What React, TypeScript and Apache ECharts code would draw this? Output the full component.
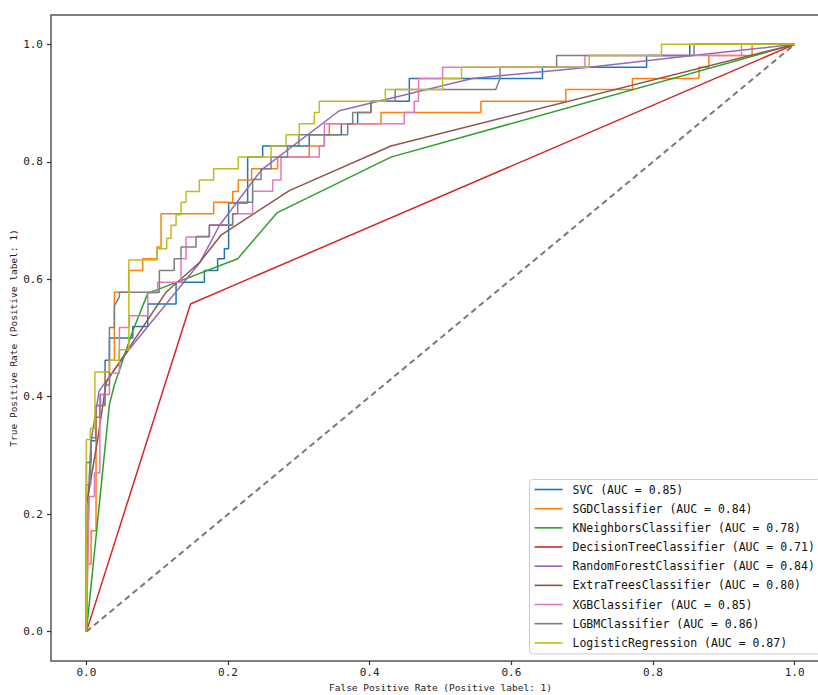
import React, { useEffect, useRef } from "react";
import * as echarts from "echarts";

const modelNames = [
  "SVC",
  "SGDClassifier",
  "KNeighborsClassifier",
  "DecisionTreeClassifier",
  "RandomForestClassifier",
  "ExtraTreesClassifier",
  "XGBClassifier",
  "LGBMClassifier",
  "LogisticRegression",
];
const aucValues = ["0.85", "0.84", "0.78", "0.71", "0.84", "0.80", "0.85", "0.86", "0.87"];
const lineColors = ["#1f77b4", "#ff7f0e", "#2ca02c", "#d62728", "#9467bd", "#8c564b", "#e377c2", "#7f7f7f", "#bcbd22"];

const xTicks = [0, 0.2, 0.4, 0.6, 0.8, 1.0];
const yTicks = [0, 0.2, 0.4, 0.6, 0.8, 1.0];

// [fpr, tpr] points
const svcRoc = [[0,0],[0,0.288],[0.0066,0.288],[0.0066,0.325],[0.0136,0.325],[0.0136,0.385],[0.0198,0.385],[0.0198,0.404],[0.0264,0.404],[0.0264,0.462],[0.0325,0.462],[0.0325,0.5],[0.0654,0.5],[0.0654,0.5196],[0.0866,0.5196],[0.0866,0.558],[0.1266,0.558],[0.1266,0.595],[0.1666,0.595],[0.1666,0.615],[0.1853,0.615],[0.1853,0.635],[0.1948,0.635],[0.1948,0.652],[0.2008,0.652],[0.2008,0.73],[0.2277,0.73],[0.2277,0.808],[0.2489,0.808],[0.2489,0.827],[0.3147,0.827],[0.3147,0.846],[0.36,0.846],[0.36,0.865],[0.383,0.865],[0.383,0.884],[0.4018,0.884],[0.4018,0.903],[0.456,0.903],[0.456,0.942],[0.644,0.942],[0.644,0.961],[0.791,0.961],[0.791,0.981],[0.852,0.981],[0.852,1],[1,1]];
const sgdRoc = [[0,0],[0,0.115],[0.0066,0.115],[0.0066,0.172],[0.0136,0.172],[0.0136,0.385],[0.0264,0.385],[0.0264,0.442],[0.0325,0.442],[0.0325,0.462],[0.0395,0.462],[0.0395,0.578],[0.0597,0.578],[0.0597,0.615],[0.0795,0.615],[0.0795,0.635],[0.0997,0.635],[0.0997,0.655],[0.1054,0.655],[0.1054,0.7115],[0.1797,0.7115],[0.1797,0.731],[0.2065,0.731],[0.2065,0.7496],[0.2145,0.7496],[0.2145,0.769],[0.2333,0.769],[0.2333,0.788],[0.27,0.788],[0.27,0.808],[0.3147,0.808],[0.3147,0.827],[0.336,0.827],[0.336,0.846],[0.343,0.846],[0.343,0.865],[0.416,0.865],[0.416,0.884],[0.557,0.884],[0.557,0.903],[0.677,0.903],[0.677,0.923],[0.771,0.923],[0.771,0.942],[0.865,0.942],[0.865,0.961],[0.879,0.961],[0.879,0.981],[0.94,0.981],[0.94,1],[1,1]];
const knnRoc = [[0,0],[0.0325,0.387],[0.0395,0.42],[0.0654,0.512],[0.0866,0.576],[0.2136,0.635],[0.269,0.713],[0.43,0.808],[1,1]];
const dtRoc = [[0,0],[0.147,0.558],[1,1]];
const rfRoc = [[0,0],[0.003,0.24],[0.0066,0.325],[0.018,0.41],[0.06,0.48],[0.16,0.628],[0.188,0.692],[0.24,0.775],[0.249,0.788],[0.357,0.887],[0.545,0.942],[0.71,0.961],[0.856,0.981],[1,1]];
const etRoc = [[0,0],[0,0.215],[0.016,0.328],[0.028,0.425],[0.1125,0.578],[0.16,0.629],[0.19,0.675],[0.2865,0.751],[0.43,0.827],[1,1]];
const xgbRoc = [[0,0],[0.004,0.23],[0.0113,0.23],[0.0113,0.27],[0.019,0.27],[0.019,0.404],[0.0325,0.404],[0.0325,0.44],[0.0466,0.44],[0.0466,0.518],[0.0607,0.518],[0.0607,0.538],[0.0866,0.538],[0.0866,0.577],[0.1006,0.577],[0.1006,0.595],[0.1336,0.595],[0.1336,0.635],[0.1407,0.635],[0.1407,0.672],[0.1736,0.672],[0.1736,0.693],[0.2065,0.693],[0.2065,0.7115],[0.2347,0.7115],[0.2347,0.75],[0.263,0.75],[0.263,0.769],[0.2748,0.769],[0.2748,0.808],[0.3289,0.808],[0.3289,0.827],[0.336,0.827],[0.336,0.865],[0.4488,0.865],[0.4488,0.884],[0.463,0.884],[0.463,0.903],[0.469,0.903],[0.469,0.942],[0.503,0.942],[0.503,0.961],[0.704,0.961],[0.704,0.981],[0.925,0.981],[0.925,1],[1,1]];
const lgbmRoc = [[0,0],[0,0.25],[0.006,0.25],[0.006,0.33],[0.013,0.33],[0.013,0.365],[0.019,0.365],[0.019,0.385],[0.026,0.385],[0.026,0.42],[0.0325,0.42],[0.0325,0.518],[0.0395,0.518],[0.0395,0.555],[0.0466,0.57],[0.0466,0.578],[0.103,0.578],[0.103,0.615],[0.124,0.615],[0.124,0.635],[0.1336,0.635],[0.1336,0.655],[0.1548,0.655],[0.1548,0.673],[0.1736,0.673],[0.1736,0.692],[0.2065,0.692],[0.2065,0.7115],[0.2136,0.7115],[0.2136,0.731],[0.2347,0.731],[0.2347,0.77],[0.2465,0.77],[0.2465,0.788],[0.2607,0.788],[0.2607,0.808],[0.284,0.808],[0.284,0.827],[0.3,0.827],[0.3,0.846],[0.369,0.846],[0.369,0.865],[0.376,0.865],[0.376,0.884],[0.4018,0.884],[0.4018,0.903],[0.436,0.903],[0.436,0.923],[0.578,0.923],[0.584,0.942],[0.584,0.961],[0.664,0.961],[0.664,0.981],[0.858,0.981],[0.858,1],[1,1]];
const lrRoc = [[0,0],[0,0.327],[0.0056,0.327],[0.0056,0.346],[0.012,0.346],[0.012,0.442],[0.0325,0.442],[0.0325,0.462],[0.046,0.462],[0.046,0.48],[0.06,0.48],[0.06,0.633],[0.0997,0.633],[0.0997,0.652],[0.1134,0.652],[0.1134,0.67],[0.1195,0.67],[0.1195,0.692],[0.1266,0.692],[0.1266,0.71],[0.1336,0.71],[0.1336,0.731],[0.1407,0.731],[0.1407,0.7496],[0.1595,0.7496],[0.1595,0.769],[0.1797,0.769],[0.1797,0.788],[0.2145,0.788],[0.2145,0.808],[0.2607,0.808],[0.2607,0.827],[0.2818,0.827],[0.2818,0.846],[0.3006,0.846],[0.3006,0.865],[0.3218,0.865],[0.3218,0.884],[0.3289,0.884],[0.3289,0.903],[0.422,0.903],[0.422,0.923],[0.503,0.923],[0.503,0.942],[0.5297,0.942],[0.5297,0.961],[0.71,0.961],[0.71,0.981],[0.812,0.981],[0.812,1],[1,1]];
const chanceLine = [[0,0],[1,1]];

const rocCurves = [svcRoc, sgdRoc, knnRoc, dtRoc, rfRoc, etRoc, xgbRoc, lgbmRoc, lrRoc];

export default function App() {
  const ref = useRef<HTMLDivElement>(null);
  useEffect(() => {
    const chart = echarts.init(ref.current!, null, { renderer: "svg" });
    const font = "'DejaVu Sans Mono', monospace";
    const labels = modelNames.map((n, i) => `${n} (AUC = ${aucValues[i]})`);
    const series: any[] = rocCurves.map((d, i) => ({
      type: "line",
      name: labels[i],
      data: d,
      symbol: "none",
      showSymbol: false,
      color: lineColors[i],
      lineStyle: { color: lineColors[i], width: 1.5 },
      itemStyle: { color: lineColors[i] },
      z: 2 + i,
    }));
    series.push({
      type: "line",
      name: "chance",
      data: chanceLine,
      symbol: "none",
      showSymbol: false,
      lineStyle: { color: "#857570", width: 2, type: [6, 4] },
      z: 1,
    });
    const axisCommon = {
      type: "value",
      min: -0.05,
      max: 1.05,
      splitLine: { show: false },
      axisLine: { show: false, onZero: false },
      nameLocation: "middle",
      nameMoveOverlap: false,
      nameTextStyle: { fontFamily: font, fontSize: 9.5, color: "#1a1a1a" },
    };
    chart.setOption({
      animation: false,
      backgroundColor: "#ffffff",
      grid: {
        left: 51,
        top: 15,
        width: 779,
        height: 646,
        show: true,
        containLabel: false,
        outerBoundsMode: "none",
        borderColor: "#555555",
        borderWidth: 1.5,
        backgroundColor: "transparent",
      },
      xAxis: {
        ...axisCommon,
        name: "False Positive Rate (Positive label: 1)",
        nameGap: 21,
        axisTick: { show: true, customValues: xTicks, length: 4, lineStyle: { color: "#333", width: 1.2 } },
        axisLabel: {
          customValues: xTicks,
          formatter: (v: number) => v.toFixed(1),
          margin: 6,
          fontFamily: font,
          fontSize: 11,
          color: "#222",
        },
      },
      yAxis: {
        ...axisCommon,
        name: "True Positive Rate (Positive label: 1)",
        nameGap: 33,
        axisTick: { show: true, customValues: yTicks, length: 4, lineStyle: { color: "#333", width: 1.2 } },
        axisLabel: {
          customValues: yTicks,
          formatter: (v: number) => v.toFixed(1),
          margin: 8,
          fontFamily: font,
          fontSize: 11,
          color: "#222",
        },
      },
      legend: {
        data: labels,
        orient: "vertical",
        left: 529.5,
        top: 479.5,
        icon: "rect",
        itemWidth: 28,
        itemHeight: 1.6,
        itemGap: 5.17,
        padding: [3, 6, 4, 5],
        backgroundColor: "rgba(255,255,255,0.85)",
        borderColor: "#cccccc",
        borderWidth: 1,
        borderRadius: 3,
        textStyle: { fontFamily: font, fontSize: 11.5, color: "#111", padding: [0, 0, 0, 5], lineHeight: 14, height: 14 },
      },
      series,
    });
    return () => chart.dispose();
  }, []);
  return (
    <div
      ref={ref}
      style={{ position: "fixed", left: 0, top: 0, width: 818, height: 695, background: "#fff" }}
    />
  );
}
